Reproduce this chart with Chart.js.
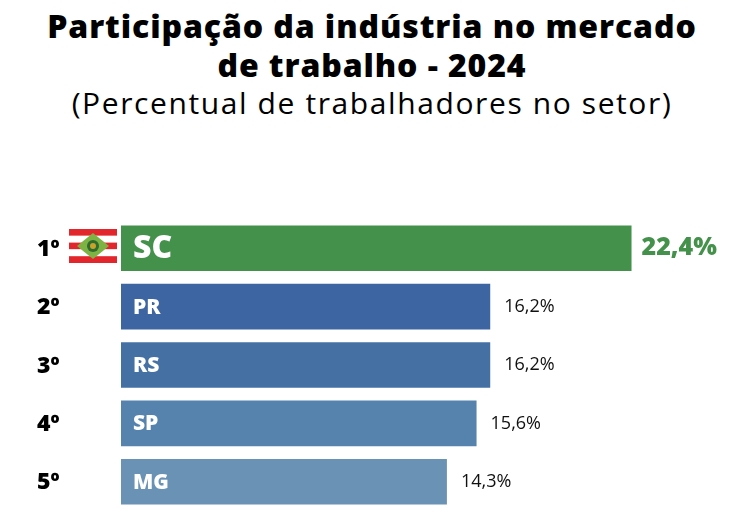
<!DOCTYPE html>
<html>
<head>
<meta charset="utf-8">
<script src="https://cdn.jsdelivr.net/npm/chart.js@4"></script>
<style>
  html, body { margin: 0; padding: 0; background: #fff; }
  #wrap { position: relative; width: 744px; height: 519px; }
  #title { position: absolute; top: 6px; left: 0; width: 744px; text-align: center;
           font-family: "Open Sans", sans-serif; color: #000; }
  #title .t { font-weight: 800; font-size: 32px; line-height: 39px; letter-spacing: 0.9px; }
  #title .s { font-weight: 400; font-size: 30px; line-height: 38px; letter-spacing: 1.6px; }
  canvas { position: absolute; top: 0; left: 0; }
</style>
</head>
<body>
<div id="wrap">
  <div id="title">
    <div class="t">Participação da indústria no mercado<br>de trabalho - 2024</div>
    <div class="s">(Percentual de trabalhadores no setor)</div>
  </div>
  <canvas id="barChart" width="744" height="519"></canvas>
</div>
<script>
var states = ["SC", "PR", "RS", "SP", "MG"];
var ranks = ["1º", "2º", "3º", "4º", "5º"];
var shares = [22.4, 16.2, 16.2, 15.6, 14.3];
var colors = ["#43914a", "#3d65a1", "#4570a4", "#5583ad", "#6a92b5"];

var labelsPlugin = {
    id: "labels",
    afterDatasetsDraw: function (chart) {
        var ctx = chart.ctx;
        var meta = chart.getDatasetMeta(0);
        ctx.save();
        ctx.textBaseline = "middle";
        meta.data.forEach(function (bar, i) {
            var y = bar.y;
            // rank
            ctx.fillStyle = "#000";
            ctx.textAlign = "left";
            ctx.font = "800 23px 'Open Sans'";
            ctx.fillText(ranks[i], 37, y + 1);
            // state inside bar
            ctx.fillStyle = "#fff";
            ctx.font = i === 0 ? "800 32px 'Open Sans'" : "800 21px 'Open Sans'";
            ctx.fillText(states[i], bar.base + 12, y + 1);
            // value
            var txt = shares[i].toFixed(1).replace(".", ",") + "%";
            if (i === 0) {
                ctx.fillStyle = colors[0];
                ctx.font = "800 25px 'Open Sans'";
                ctx.fillText(txt, bar.x + 10, y);
            } else {
                ctx.fillStyle = "#111";
                ctx.font = "500 18px 'Open Sans'";
                ctx.fillText(txt, bar.x + 14, y);
            }
        });
        // flag of Santa Catarina
        var fx = 69, fy = 229, fw = 48, fh = 34, sh = fh / 5;
        for (var k = 0; k < 5; k++) {
            ctx.fillStyle = k % 2 === 0 ? "#e3262b" : "#ffffff";
            ctx.fillRect(fx, fy + k * sh, fw, sh);
        }
        ctx.fillStyle = "#7cb342";
        ctx.beginPath();
        ctx.moveTo(fx + 8, fy + fh / 2);
        ctx.lineTo(fx + fw / 2, fy + 4);
        ctx.lineTo(fx + fw - 8, fy + fh / 2);
        ctx.lineTo(fx + fw / 2, fy + fh - 4);
        ctx.closePath();
        ctx.fill();
        ctx.fillStyle = "#2e6b2e";
        ctx.beginPath();
        ctx.arc(fx + fw / 2, fy + fh / 2, 6, 0, Math.PI * 2);
        ctx.fill();
        ctx.fillStyle = "#c9a227";
        ctx.beginPath();
        ctx.arc(fx + fw / 2, fy + fh / 2, 3, 0, Math.PI * 2);
        ctx.fill();
        ctx.restore();
    }
};

var ctx = document.getElementById("barChart").getContext("2d");
new Chart(ctx, {
    type: "bar",
    data: {
        labels: states,
        datasets: [{
            data: shares,
            backgroundColor: colors,
            borderWidth: 0,
            categoryPercentage: 1,
            barPercentage: 0.78
        }]
    },
    options: {
        indexAxis: "y",
        responsive: false,
        animation: false,
        layout: { padding: { left: 121, right: 76, top: 219, bottom: 8 } },
        plugins: { legend: { display: false }, tooltip: { enabled: false } },
        scales: {
            x: { display: false, min: 0, max: 24 },
            y: { display: false }
        }
    },
    plugins: [labelsPlugin]
});
</script>
</body>
</html>
